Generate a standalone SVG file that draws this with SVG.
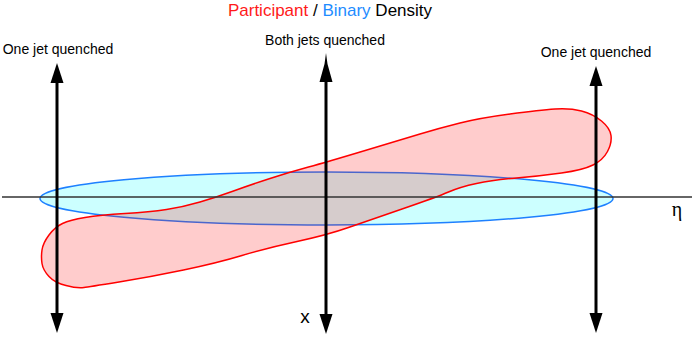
<svg xmlns="http://www.w3.org/2000/svg" width="692" height="344" viewBox="0 0 692 344">
<style>
.lbl{font-family:"Liberation Sans",Arial,sans-serif;font-size:14px;fill:#000;text-anchor:middle}
.axis{stroke:#333;stroke-width:1.5;fill:none}
.jet{stroke:#000;stroke-width:3;fill:none}
</style>
<defs>
<marker id="head" markerUnits="userSpaceOnUse" viewBox="0 -7 21 14" markerWidth="21" markerHeight="14" refX="0" refY="0" orient="auto-start-reverse">
<path d="M0,-6.5 L20,0 L0,6.5 Z" fill="#000"/>
</marker>
<marker id="headlong" markerUnits="userSpaceOnUse" viewBox="0 -7 30 14" markerWidth="30" markerHeight="14" refX="0" refY="0" orient="auto-start-reverse">
<path d="M0,-6.5 L18,-1.5 L29,0 L18,1.5 L0,6.5 Z" fill="#000"/>
</marker>
</defs>
<rect width="692" height="344" fill="#fff"/>
<g id="title">
<text x="330" y="16" style="font-family:'Liberation Sans',Arial,sans-serif;font-size:17px" text-anchor="middle"><tspan fill="#ff1a1a">Participant</tspan><tspan fill="#000"> / </tspan><tspan fill="#1e8cff">Binary</tspan><tspan fill="#000"> Density</tspan></text>
</g>
<g id="binary-density">
<ellipse cx="326.5" cy="198.5" rx="286.5" ry="26.5" fill="#ccffff" stroke="#1e80ff" stroke-width="1.5"/>
</g>
<g id="participant-density">
<path fill="#ff0000" fill-opacity="0.2" stroke="#ff0000" stroke-width="1.5" stroke-linejoin="round" d="M84 287.5 Q88 287 119 282 Q150 277 183.5 270 Q217 263 242 255.5 Q267 248 297 241.5 Q327 235 348.5 227.5 Q370 220 403.5 208.5 Q437 197 448.5 192 Q460 187 476.5 183.5 Q493 180 516.5 178 Q540 176 561.5 173 Q583 170 593 165 Q603 160 607.5 151.5 Q612 143 611 135.5 Q610 128 601.5 121 Q593 114 581.5 111 Q570 108 555 109 Q540 110 510 114 Q480 118 460 123 Q440 128 420 134 Q400 140 363.5 151 Q327 162 308.5 167 Q290 172 270 178.5 Q250 185 233.5 191 Q217 197 200 202 Q183 207 166.5 209.5 Q150 212 125 213.5 Q100 215 85 217.5 Q70 220 62.5 223.5 Q55 227 49 235 Q43 243 42 250 Q41 257 42 263.5 Q43 270 49 276.5 Q55 283 66 285.5 Q77 288.5 84 287.5 Z"/>
</g>
<g id="eta-axis">
<line class="axis" x1="2" y1="197" x2="692" y2="197"/>
<text x="677" y="216" style="font-family:'Liberation Serif','Times New Roman',serif;font-size:20px" text-anchor="middle">η</text>
</g>
<g id="connectors">
<line class="jet" x1="57" y1="83" x2="57" y2="313" marker-start="url(#head)" marker-end="url(#head)"/>
<line class="jet" x1="326" y1="82" x2="326" y2="314" marker-start="url(#headlong)" marker-end="url(#head)"/>
<line class="jet" x1="596" y1="86" x2="596" y2="313" marker-start="url(#head)" marker-end="url(#head)"/>
</g>
<g id="label-left">
<text class="lbl" x="58" y="54">One jet quenched</text>
</g>
<g id="label-middle">
<text class="lbl" x="325" y="45">Both jets quenched</text>
</g>
<g id="label-right">
<text class="lbl" x="596" y="57">One jet quenched</text>
</g>
<g id="x-label">
<text x="305" y="323" style="font-family:'Liberation Sans',Arial,sans-serif;font-size:19px" text-anchor="middle">x</text>
</g>
</svg>
